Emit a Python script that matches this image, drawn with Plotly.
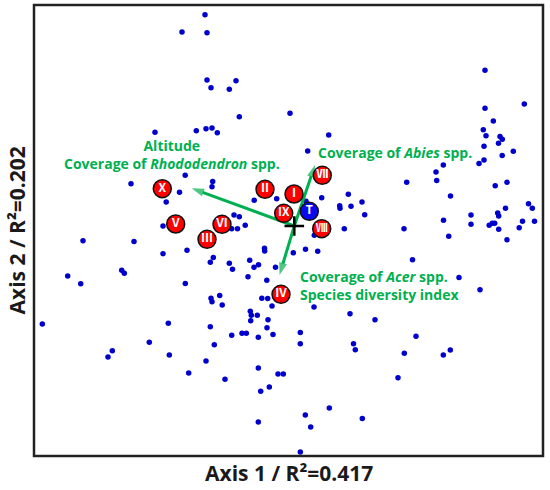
import plotly.graph_objects as go

# ---- plot scores (Axis 1, Axis 2) ----
plot_axis1 = [205, 182, 207, 207, 211, 229.3, 236, 239.3, 196.3, 206, 212, 155, 217.3, 290, 328.7, 307.7,
              485, 485, 524.3, 493.3, 483.3, 486, 500, 502.3, 498.5, 484, 513.3, 502.2, 484, 479, 443.3, 436,
              436.7, 406.7, 495.2, 507, 450.5, 505.5, 528.5, 532.3, 471, 497.7, 498.7, 443.5, 471, 489.2, 492.3,
              494.7, 498.7, 519.2, 522.5, 534.5, 404, 448.7, 507, 412.5, 459, 480,
              321.7, 348.3, 362, 339.7, 340, 351, 364.7, 344.3, 314.3, 293.3, 305.5, 317.7, 306,
              131, 185.2, 212.7, 212, 179.5, 166.2, 254.2, 276.7, 234, 239.3, 245.2, 231.7, 237.5, 163, 83, 134,
              187, 163, 264.5, 264.7, 213.3, 210.3, 229.3, 232.5, 249.7, 254, 258.5, 275.5, 248, 266.8, 67.7, 80.7,
              121.7, 124.3, 185.3, 211, 212, 219.7, 222.2, 261.8, 267.7, 272, 314, 350, 375,
              250.3, 251.3, 257.3, 250.7, 268, 267, 210.3, 231.7, 242, 246.3, 258.3, 273, 300.3, 300.3, 353.5,
              355.3, 214.3, 206, 258.3, 42.3, 168.3, 149.3, 112.3, 108, 169.3, 188.7, 225, 278, 283.3, 269.3,
              260.7, 258.3, 416, 404.3, 443.3, 450.3, 398, 329.3, 305.3, 362.3, 310.7, 300.3]
plot_axis2 = [14.7, 32, 32.7, 80, 87.7, 89.3, 80.7, 116.7, 130.7, 128.7, 128, 132.3, 132.7, 113.3, 135, 151,
              70.3, 108.3, 104, 121, 129.7, 135.7, 136.5, 139.3, 143.3, 146.2, 151.2, 155.5, 160, 163.5, 165, 172,
              180.5, 182.3, 185.8, 182.3, 196, 208.2, 203.7, 208.2, 215, 213, 216, 220.2, 224.3, 225.2, 223.3,
              223.3, 229.3, 227.7, 221.2, 221.2, 228.7, 236.3, 239.8, 259.7, 277.5, 289.8,
              197.7, 194.3, 202, 205.7, 208.3, 206.3, 214.7, 228.7, 235.3, 252.8, 249.3, 251.2, 201.3,
              183.7, 175.3, 181.5, 186.7, 192.3, 202, 200.3, 198.8, 215, 216.8, 225.2, 228.8, 228.7, 226, 240.7, 241.5,
              250.3, 253.7, 248.3, 251, 257.5, 262.2, 263.3, 269.2, 260.3, 267.3, 264.8, 267.3, 276.7, 280.2, 276, 283.7,
              270.3, 273.3, 283.5, 298.3, 301.7, 295.5, 305, 298.2, 298.5, 306, 307, 313.7, 319.8,
              311.2, 315.2, 315.3, 320.7, 319.7, 327.7, 326.7, 335.3, 333.3, 333.3, 337.2, 334.5, 332.5, 343.8, 343.7,
              349.8, 344.7, 361, 368, 324, 323.3, 342.3, 350.7, 357, 355, 373, 379.3, 374, 374, 387,
              391.3, 422, 336.3, 353.3, 355, 350, 377.7, 408, 415, 418.5, 427, 452]

# ---- group centroids ----
group_labels = ["Ⅰ", "Ⅱ", "Ⅲ", "Ⅳ", "Ⅴ", "Ⅵ", "Ⅶ", "Ⅷ", "Ⅸ", "Ⅹ"]
group_axis1 = [294, 265, 207, 281, 175.7, 222, 322.3, 321.7, 283.7, 162.3]
group_axis2 = [194, 189.3, 239.3, 294.3, 224, 224.3, 175.3, 228.7, 213.3, 188.7]

control_labels = ["T"]
control_axis1 = [309.3]
control_axis2 = [211.3]

# ---- environmental vectors ----
origin_axis1 = 294.3
origin_axis2 = 226
vector_axis1 = [191.7, 315, 279.5]
vector_axis2 = [188.3, 165, 275]

GREEN = "#00b050"
TXT_FONT = "Open Sans"

fig = go.Figure()

fig.add_trace(go.Scatter(
    x=plot_axis1, y=plot_axis2, mode="markers",
    marker=dict(size=5.5, color="#0000cc"),
    hoverinfo="skip", showlegend=False))

for vx, vy in zip(vector_axis1, vector_axis2):
    fig.add_trace(go.Scatter(
        x=[origin_axis1, vx], y=[origin_axis2, vy], mode="lines+markers",
        line=dict(color=GREEN, width=3),
        marker=dict(symbol="arrow", size=[0, 13], color=GREEN, angleref="previous",
                    line=dict(width=0)),
        hoverinfo="skip", showlegend=False))

fig.add_trace(go.Scatter(
    x=group_axis1, y=group_axis2, mode="markers+text", text=group_labels,
    textposition="middle center",
    textfont=dict(family="Noto Sans CJK KR", size=12, color="white", weight="bold"),
    marker=dict(size=18, color="#ff0000", line=dict(color="#111111", width=1.5)),
    hoverinfo="skip", showlegend=False))

fig.add_trace(go.Scatter(
    x=control_axis1, y=control_axis2, mode="markers+text", text=control_labels,
    textposition="middle center",
    textfont=dict(family=TXT_FONT, size=12, color="white", weight="bold"),
    marker=dict(size=18, color="#0a0aee", line=dict(color="#111111", width=1.5)),
    hoverinfo="skip", showlegend=False))

fig.add_trace(go.Scatter(
    x=[origin_axis1], y=[origin_axis2], mode="markers",
    marker=dict(symbol="cross-thin", size=14, line=dict(color="black", width=2.5)),
    hoverinfo="skip", showlegend=False))

labels = [
    (172, 154, "<b>Altitude<br>Coverage of <i>Rhododendron</i> spp.</b>", "center"),
    (316, 152.3, "<b>Coverage of <i>Abies</i> spp.</b>", "left"),
    (298, 285, "<b>Coverage of <i>Acer</i> spp.<br>Species diversity index</b>", "left"),
]
for lx, ly, t, anc in labels:
    fig.add_annotation(x=lx, y=ly, xref="x", yref="y", text=t, showarrow=False,
                       xanchor=anc, yanchor="middle", align=anc,
                       font=dict(family=TXT_FONT, size=14, color=GREEN))

fig.add_annotation(x=0.5, y=0, xref="paper", yref="paper", yanchor="middle", yshift=-17,
                   text="<b>Axis 1 / R²=0.417</b>", showarrow=False,
                   font=dict(family=TXT_FONT, size=21, color="#1a1a1a"))
fig.add_annotation(x=0, y=0.5, xref="paper", yref="paper", xanchor="center", xshift=-18,
                   textangle=-90, text="<b>Axis 2 / R²=0.202</b>", showarrow=False,
                   font=dict(family=TXT_FONT, size=21, color="#1a1a1a"))

fig.add_shape(type="rect", xref="paper", yref="paper", x0=0, y0=0, x1=1, y1=1,
              line=dict(color="#222222", width=2.5), layer="above")

fig.update_xaxes(range=[34, 543], showgrid=False, zeroline=False, showticklabels=False, ticks="")
fig.update_yaxes(range=[456, 5], showgrid=False, zeroline=False, showticklabels=False, ticks="")

fig.update_layout(width=550, height=490, margin=dict(l=34, r=7, t=5, b=34),
                  plot_bgcolor="white", paper_bgcolor="white")

fig.write_html("out.html", config={"displayModeBar": False},
               post_script="document.body.style.margin='0';")
